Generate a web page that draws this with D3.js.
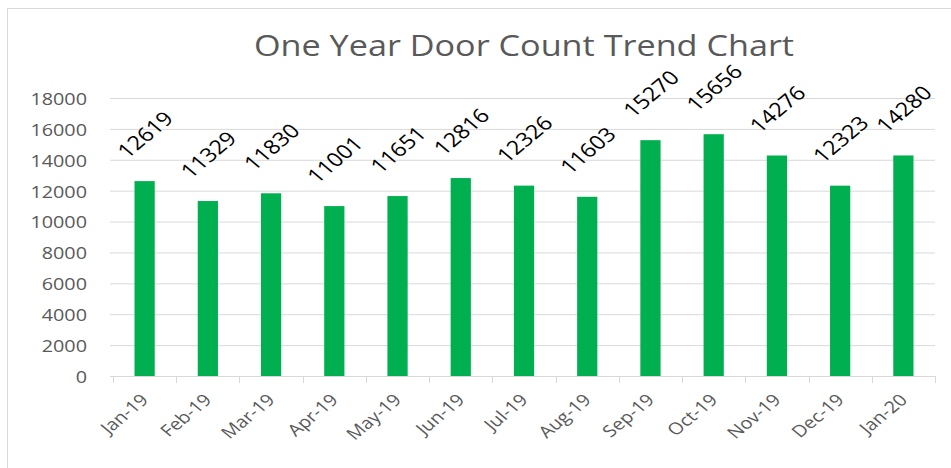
<!DOCTYPE html>
<html>
<head>
<meta charset="utf-8">
<script src="https://cdn.jsdelivr.net/npm/d3@7/dist/d3.min.js"></script>
<style>
  html, body { margin: 0; padding: 0; background: #fff; }
  svg { display: block; }
  text { font-family: "Open Sans", "Noto Sans", sans-serif; }
</style>
</head>
<body>
<svg id="chart" width="951" height="468"></svg>
<script>
// Monthly door counts
const months = ["Jan-19","Feb-19","Mar-19","Apr-19","May-19","Jun-19","Jul-19",
                "Aug-19","Sep-19","Oct-19","Nov-19","Dec-19","Jan-20"];
const doorCounts = [12619, 11329, 11830, 11001, 11651, 12816, 12326,
                    11603, 15270, 15656, 14276, 12323, 14280];
const yTicks = [0, 2000, 4000, 6000, 8000, 10000, 12000, 14000, 16000, 18000];
const chartTitle = "One Year Door Count Trend Chart";

const W = 951, H = 468;
const plotLeft = 113, plotRight = 935, plotTop = 98, plotBottom = 376;
const stretch = 1.2;           // text is drawn slightly wide
const tilt = -45;
const grey = "#595959", gridColor = "#d9d9d9", barColor = "#00b050";

const svg = d3.select("#chart");

// outer chart frame
svg.append("rect")
  .attr("x", 7.5).attr("y", 8.5)
  .attr("width", W).attr("height", H)
  .attr("fill", "#fff").attr("stroke", gridColor).attr("stroke-width", 1);

const x = d3.scaleBand().domain(months).range([plotLeft, plotRight])
  .paddingInner(0.68).paddingOuter(0.34);
const y = d3.scaleLinear().domain([0, 18000]).range([plotBottom, plotTop]);

// title
svg.append("text")
  .attr("transform", `translate(524,56) scale(${stretch},1)`)
  .attr("text-anchor", "middle")
  .attr("font-size", 28.5)
  .attr("fill", grey)
  .text(chartTitle);

// gridlines and y labels
const yAxis = d3.axisLeft(y).tickValues(yTicks).tickSize(0).tickPadding(0)
  .tickFormat(d3.format("d"));
const gy = svg.append("g").attr("transform", `translate(${plotLeft - 3},0)`).call(yAxis);
gy.select(".domain").remove();
gy.selectAll(".tick line")
  .attr("x2", plotRight - plotLeft + 3)
  .attr("stroke", gridColor);
gy.selectAll(".tick text")
  .attr("x", null).attr("dy", null)
  .attr("dominant-baseline", "central")
  .attr("text-anchor", "end")
  .attr("font-size", 16.5)
  .attr("fill", grey)
  .attr("font-family", "'Open Sans', sans-serif")
  .attr("transform", `translate(${87 - (plotLeft - 3)},0) scale(${stretch},1)`);

// x axis line with boundary ticks
const step = x.step();
const boundaries = d3.range(months.length + 1).map(i => plotLeft + i * step);
svg.append("line")
  .attr("x1", plotLeft).attr("x2", plotRight)
  .attr("y1", plotBottom + 0.5).attr("y2", plotBottom + 0.5)
  .attr("stroke", gridColor);
svg.append("g").selectAll("line").data(boundaries).join("line")
  .attr("x1", d => Math.round(d) + 0.5).attr("x2", d => Math.round(d) + 0.5)
  .attr("y1", plotBottom).attr("y2", plotBottom + 7)
  .attr("stroke", gridColor);

// x category labels
svg.append("g").selectAll("text").data(months).join("text")
  .attr("transform", d => `translate(${x(d) + x.bandwidth() / 2 + 5},401) scale(${stretch},1) rotate(${tilt})`)
  .attr("text-anchor", "end")
  .attr("font-size", 16.5)
  .attr("fill", grey)
  .text(d => d);

// bars
svg.append("g").selectAll("rect").data(doorCounts).join("rect")
  .attr("x", (d, i) => x(months[i]))
  .attr("width", x.bandwidth())
  .attr("y", d => y(d))
  .attr("height", d => y(0) - y(d))
  .attr("fill", barColor);

// value labels
svg.append("g").selectAll("text").data(doorCounts).join("text")
  .attr("transform", (d, i) => `translate(${x(months[i]) + x.bandwidth() / 2},${y(d) - 47}) scale(${stretch},1) rotate(${tilt})`)
  .attr("text-anchor", "middle")
  .attr("dominant-baseline", "central")
  .attr("font-size", 19.5)
  .attr("fill", "#000")
  .text(d => d);
</script>
</body>
</html>
